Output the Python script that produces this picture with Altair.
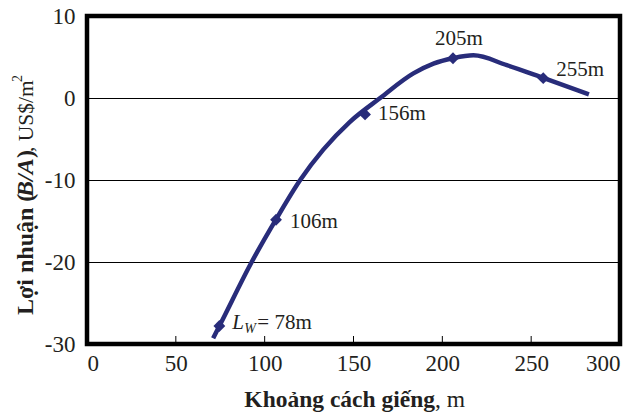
import altair as alt
import pandas as pd

# Curve (well spacing in m, profit in US$/m2)
curve_x = [71, 75, 92.7, 106.4, 120, 133, 148, 165, 183.7, 195, 206, 217.5, 236.3, 256.8, 282.5]
curve_y = [-29.3, -27.6, -20, -14.8, -10, -6.3, -2.9, 0, 3.0, 4.2, 4.85, 5.2, 4.0, 2.45, 0.45]

# Marked points
mark_x = [74.5, 106.4, 156.5, 206, 256.8]
mark_y = [-27.8, -14.85, -2.0, 4.85, 2.42]
mark_labels = ["78m", "106m", "156m", "205m", "255m"]

x_ticks = [0, 50, 100, 150, 200, 250, 300]
y_ticks = [-30, -20, -10, 0, 10]
inner_ticks = [50, 100, 150, 200, 250]

FONT = "Liberation Serif"
TXT = "#231f20"
NAVY = "#282c7a"

curve_df = pd.DataFrame({"x": curve_x, "y": curve_y})
mark_df = pd.DataFrame({"x": mark_x, "y": mark_y, "lab": mark_labels})

xscale = alt.Scale(domain=[0, 300], nice=False)
yscale = alt.Scale(domain=[-30, 10], nice=False)

line = alt.Chart(curve_df).mark_line(
    color=NAVY, strokeWidth=4.5, interpolate="monotone"
).encode(
    x=alt.X("x:Q", scale=xscale, axis=alt.Axis(
        values=x_ticks, ticks=False, domain=False, grid=False, title=None,
        labelExpr="toString(datum.value)",
        labelFont=FONT, labelFontSize=23, labelColor=TXT, labelPadding=8)),
    y=alt.Y("y:Q", scale=yscale, axis=alt.Axis(
        values=y_ticks, ticks=False, domain=False, grid=True, gridColor="#000000",
        gridWidth=1, gridOpacity=1, title=None,
        labelExpr="toString(datum.value)",
        labelFont=FONT, labelFontSize=23, labelColor=TXT, labelPadding=12)),
)

points = alt.Chart(mark_df).mark_point(
    shape="diamond", filled=True, color=NAVY, size=140, opacity=1
).encode(x="x:Q", y="y:Q")

ticks = alt.Chart(pd.DataFrame({"x": inner_ticks})).mark_rule(
    color="#000000", strokeWidth=1
).encode(x="x:Q", y=alt.value(328), y2=alt.value(320))

def lab(i, dx, dy, align="left"):
    d = mark_df.iloc[[i]]
    return alt.Chart(d).mark_text(
        font=FONT, fontSize=21, color=TXT, align=align, baseline="alphabetic",
        dx=dx, dy=dy
    ).encode(x="x:Q", y="y:Q", text="lab:N")

labels = [
    lab(1, 14, 8),
    lab(2, 13, 6),
    lab(3, 6, -13, "center"),
    lab(4, 13, -2),
]

lw_df = mark_df.iloc[[0]]
lw_L = alt.Chart(lw_df).mark_text(
    font=FONT, fontSize=21, fontStyle="italic", color=TXT, align="left",
    baseline="alphabetic", dx=13, dy=3.5, text="L"
).encode(x="x:Q", y="y:Q")
lw_W = alt.Chart(lw_df).mark_text(
    font=FONT, fontSize=14, fontStyle="italic", color=TXT, align="left",
    baseline="alphabetic", dx=25, dy=7.5, text="W"
).encode(x="x:Q", y="y:Q")
lw_rest = alt.Chart(lw_df).mark_text(
    font=FONT, fontSize=21, color=TXT, align="left",
    baseline="alphabetic", dx=38, dy=3.5
).encode(x="x:Q", y="y:Q", text=alt.value("= 78m"))

one = pd.DataFrame({"a": [0]})

def free_text(txt, x, y, size=23.5, weight="normal", style="normal", angle=0, align="left"):
    return alt.Chart(one).mark_text(
        text=txt, font=FONT, fontSize=size, fontWeight=weight, fontStyle=style,
        color=TXT, align=align, baseline="alphabetic", angle=angle
    ).encode(x=alt.value(x), y=alt.value(y))

titles = [
    free_text("Khoảng cách giếng", 348, 391, weight="bold", align="right"),
    free_text(", m", 348, 391),
    free_text("Lợi nhuận (", -54, 299, size=24, weight="bold", angle=270),
    free_text("B/A", -54, 181, size=24, weight="bold", style="italic", angle=270),
    free_text(")", -54, 142, size=24, weight="bold", angle=270),
    free_text(", US$/m", -54, 136, size=21.5, angle=270),
    free_text("2", -65, 66, size=14, angle=270),
]

chart = alt.layer(
    line, points, ticks, *labels, lw_L, lw_W, lw_rest, *titles
).properties(
    width=533, height=328,
    autosize=alt.AutoSizeParams(type="none"),
    padding={"left": 87, "top": 16, "right": 9, "bottom": 70},
).configure(
    background="white",
    view=alt.ViewConfig(stroke="#000000", strokeWidth=4.5),
)

chart.save("out.html", embed_options={"renderer": "svg", "actions": False})
